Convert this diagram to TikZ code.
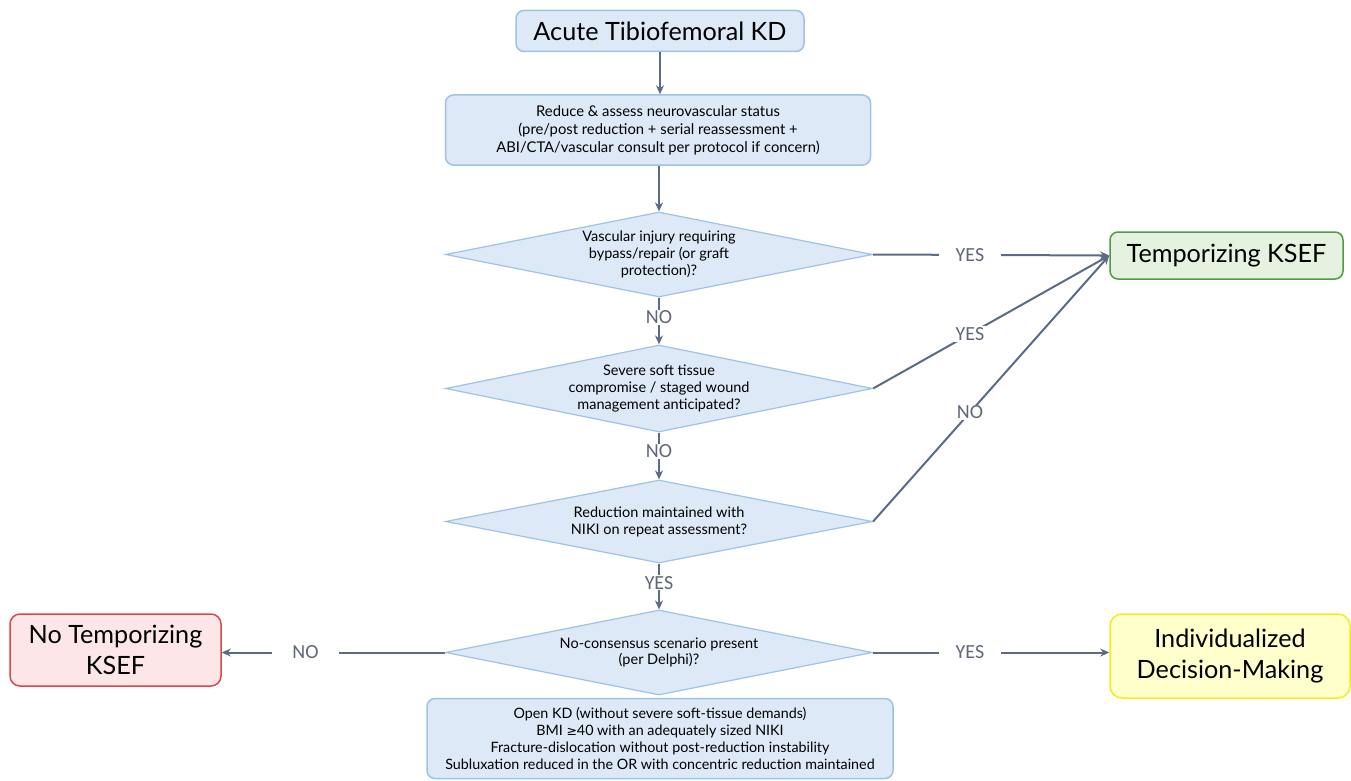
\documentclass[tikz,border=0pt]{standalone}
\usepackage{fontspec}
\setmainfont{Lato}
\newfontfamily\labfont{Carlito}
\newfontfamily\symfont{DejaVu Sans}
\usetikzlibrary{shapes.geometric,arrows.meta}
\definecolor{bfill}{HTML}{DDE9F6}
\definecolor{bdraw}{HTML}{9DC3E6}
\definecolor{gfill}{HTML}{E4F2DF}
\definecolor{gdraw}{HTML}{4E9A45}
\definecolor{rfill}{HTML}{FCE6E8}
\definecolor{rdraw}{HTML}{D9474E}
\definecolor{yfill}{HTML}{FFFFCC}
\definecolor{ydraw}{HTML}{F2EE1A}
\definecolor{arrc}{HTML}{5B6B86}
\definecolor{labc}{HTML}{5F6778}
\tikzset{
  bbox/.style={draw=bdraw,fill=bfill,line width=1.5pt,rounded corners=8pt,align=center,inner sep=2pt},
  dia/.style={diamond,draw=bdraw,fill=bfill,line width=1.2pt,aspect=5,inner sep=0pt,align=center,
    minimum width=427pt,font=\fontsize{14.5}{16.8}\selectfont},
  big/.style={font=\fontsize{25.2}{30}\selectfont},
  arr/.style={draw=arrc,line width=2pt,-{Stealth[length=9pt,width=8pt]}},
  lab/.style={fill=white,text=labc,font=\labfont\fontsize{20}{22}\selectfont,inner xsep=17pt,inner ysep=1pt},
  vlab/.style={fill=white,text=labc,font=\labfont\fontsize{20}{22}\selectfont,inner xsep=2pt,inner ysep=1pt},
}
\begin{document}
\begin{tikzpicture}[x=1pt,y=-1pt]
\useasboundingbox (0,0) rectangle (1351,781);
\node[bbox,big,minimum width=288pt,minimum height=41pt] (start) at (660,31) {Acute Tibiofemoral KD};
\node[bbox,font=\fontsize{14.8}{18}\selectfont,minimum width=425pt,minimum height=70pt] (assess) at (658,130)
  {Reduce \& assess neurovascular status\\(pre/post reduction + serial reassessment +\\ABI/CTA/vascular consult per protocol if concern)};
\node[dia,minimum height=85pt] (d1) at (659,254.5) {Vascular injury requiring\\bypass/repair (or graft\\protection)?};
\node[dia,minimum height=87pt] (d2) at (659,388.5) {Severe soft tissue\\compromise / staged wound\\management anticipated?};
\node[dia,minimum height=83pt] (d3) at (659,521.5) {Reduction maintained with\\NIKI on repeat assessment?};
\node[dia,minimum height=85pt] (d4) at (659,652.5) {No-consensus scenario present\\(per Delphi)?};
\node[bbox,font=\fontsize{14.3}{17.2}\selectfont,minimum width=466pt,minimum height=80pt] (crit) at (660,738.5)
  {Open KD (without severe soft-tissue demands)\\BMI {\symfont\fontsize{12.5}{17.2}\selectfont ≥}40 with an adequately sized NIKI\\Fracture-dislocation without post-reduction instability\\Subluxation reduced in the OR with concentric reduction maintained};
\node[draw=gdraw,fill=gfill,line width=1.5pt,rounded corners=8pt,big,minimum width=233pt,minimum height=47pt] (temp) at (1226.5,255.5) {Temporizing KSEF};
\node[draw=rdraw,fill=rfill,line width=1.5pt,rounded corners=10pt,align=center,minimum width=211pt,minimum height=72pt,font=\fontsize{25.2}{31}\selectfont] (notemp) at (115.5,650) {No Temporizing\\KSEF};
\node[draw=ydraw,fill=yfill,line width=1.5pt,rounded corners=12pt,align=center,minimum width=240pt,minimum height=84pt,font=\fontsize{25.2}{31}\selectfont] (indiv) at (1230,656) {Individualized\\Decision-Making};
\draw[arr] (start.south) -- (start.south |- assess.north);
\draw[arr] (assess.south -| d1.north) -- (d1.north);
\draw[arr] (d1) -- node[vlab,pos=0.42]{NO} (d2);
\draw[arr] (d2) -- node[vlab,pos=0.4]{NO} (d3);
\draw[arr] (d3) -- node[vlab,pos=0.42]{YES} (d4);
\draw[arr] (d1.east) -- node[lab,pos=0.41]{YES} (temp.west);
\draw[arr] (d2.east) -- node[lab,pos=0.41,inner xsep=4pt]{YES} (temp.west);
\draw[arr] (d3.east) -- node[lab,pos=0.41,inner xsep=4pt]{NO} (temp.west);
\draw[arr] (d4.west) -- node[lab,pos=0.625,inner xsep=20pt]{NO} (d4.west -| notemp.east);
\draw[arr] (d4.east) -- node[lab,pos=0.41]{YES} (d4.east -| indiv.west);
\end{tikzpicture}
\end{document}
